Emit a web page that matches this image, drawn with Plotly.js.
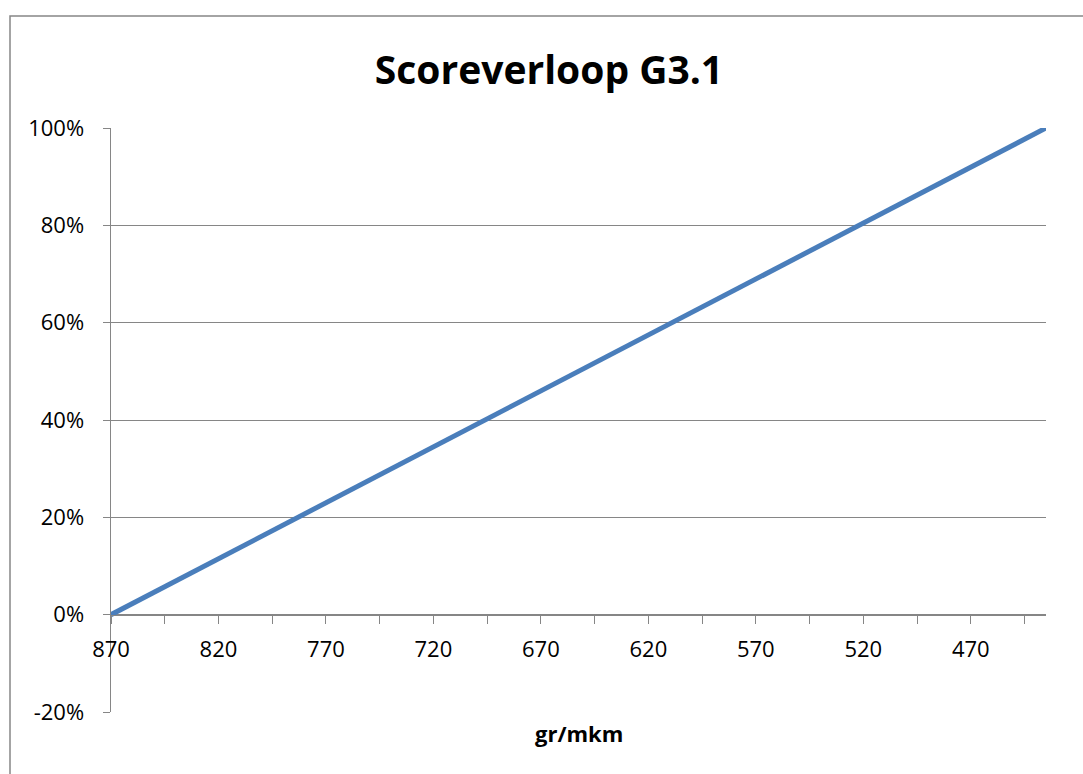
<!DOCTYPE html>
<html>
<head>
<meta charset="utf-8">
<script src="https://cdn.plot.ly/plotly-3.0.1.min.js"></script>
<style>
html,body{margin:0;padding:0;background:#fff;}
#chart{width:1083px;height:774px;}
</style>
</head>
<body>
<div id="chart"></div>
<script>
// Data
const grPerMkm = [870, 435];
const scoreFraction = [0, 1];
const yTickVals = [-0.2, 0, 0.2, 0.4, 0.6, 0.8, 1.0];
const yTickText = ["-20%", "0%", "20%", "40%", "60%", "80%", "100%"];
const chartTitle = "Scoreverloop G3.1";
const xTitle = "gr/mkm";

const W = 1083, H = 774;
const L = 111, R = 37, T = 128, B = 62;
const pw = W - L - R, ph = H - T - B;
const gray = "#868686";
const font = "'Open Sans', sans-serif";

const trace = {
  x: grPerMkm,
  y: scoreFraction,
  type: "scatter",
  mode: "lines",
  line: {color: "#4A7EBB", width: 5},
  hoverinfo: "skip",
  showlegend: false
};

const layout = {
  width: W, height: H,
  margin: {l: L, r: R, t: T, b: B, pad: 0},
  paper_bgcolor: "#fff",
  plot_bgcolor: "#fff",
  font: {family: font, size: 22, color: "#000"},
  title: {
    text: "<b>" + chartTitle + "</b>",
    font: {family: font, size: 39, color: "#000"},
    x: (549 - L) / pw, xref: "paper", xanchor: "center",
    y: 1 - 70 / H, yanchor: "middle"
  },
  xaxis: {
    range: [870, 435],
    autorange: false,
    tick0: 870, dtick: 50,
    ticks: "outside", ticklen: 8, tickwidth: 1, tickcolor: gray,
    ticklabelstandoff: 6,
    minor: {tick0: 870, dtick: 25, ticks: "outside", ticklen: 8, tickwidth: 1, tickcolor: gray, showgrid: false},
    showgrid: false, zeroline: false,
    showline: true, linecolor: gray, linewidth: 1.5,
    anchor: "free", position: 0.2 / 1.2,
    tickfont: {family: font, size: 22, color: "#000"},
    fixedrange: true
  },
  yaxis: {
    range: [-0.2, 1.0],
    autorange: false,
    tickmode: "array",
    tickvals: yTickVals,
    ticktext: yTickText,
    ticks: "outside", ticklen: 7, tickwidth: 1, tickcolor: gray,
    ticklabelstandoff: 14,
    showgrid: true, gridcolor: gray, gridwidth: 1,
    zeroline: false,
    showline: true, linecolor: gray, linewidth: 1.5,
    tickfont: {family: font, size: 22, color: "#000"},
    fixedrange: true
  },
  annotations: [{
    text: "<b>" + xTitle + "</b>",
    xref: "paper", yref: "paper",
    x: 0.5, y: -(733 - (T + ph)) / ph,
    xanchor: "center", yanchor: "middle",
    showarrow: false,
    font: {family: font, size: 22, color: "#000"}
  }],
  shapes: [{
    type: "path",
    xref: "paper", yref: "paper",
    path: "M " + ((10 - L) / pw) + "," + (-(790 - T - ph) / ph) +
          " L " + ((10 - L) / pw) + "," + (1 + (T - 16) / ph) +
          " L " + (1 + (R + 20) / pw) + "," + (1 + (T - 16) / ph),
    line: {color: gray, width: 1.5},
    layer: "below"
  }]
};

Plotly.newPlot("chart", [trace], layout, {displayModeBar: false, staticPlot: true});
</script>
</body>
</html>
